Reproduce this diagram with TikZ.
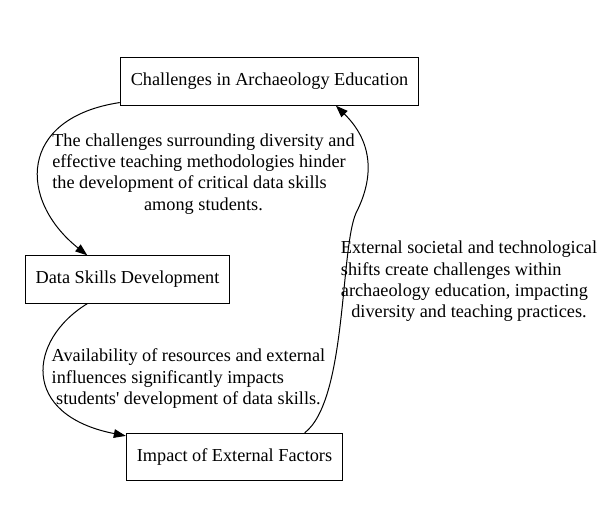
\documentclass[tikz,border=0pt]{standalone}
\usepackage{fontspec}
\setmainfont{Liberation Serif}
\usetikzlibrary{arrows.meta}
\begin{document}
\begin{tikzpicture}[x=0.75pt,y=-0.75pt,line width=0.75pt,
  font=\fontsize{13.7}{16}\selectfont,
  box/.style={draw, rectangle, inner xsep=7.9pt, minimum height=35.5pt},
  lbl/.style={inner sep=0pt},
  >={Triangle[length=9pt,width=6.5pt]}]
\useasboundingbox (0,0) rectangle (603,508);
\node[box] (chal) at (269.5,81.5) {Challenges in Archaeology Education};
\node[box] (data) at (127.5,279.5) {Data Skills Development};
\node[box] (ext) at (234.5,457) {Impact of External Factors};

\node[lbl] (lab1) at (203.5,174) {\begin{tabular}{@{}l@{}}
  The challenges surrounding diversity and\\
  effective teaching methodologies hinder\\
  the development of critical data skills\\
  \multicolumn{1}{@{}c@{}}{among students.}\end{tabular}};
\node[lbl] (lab2) at (188.5,379) {\begin{tabular}{@{}l@{}}
  Availability of resources and external\\
  influences significantly impacts\\
  \multicolumn{1}{@{}c@{}}{students\textquotesingle{} development of data skills.}\end{tabular}};
\node[lbl] (lab3) at (469,281.5) {\begin{tabular}{@{}l@{}}
  External societal and technological\\
  shifts create challenges within\\
  archaeology education, impacting\\
  \multicolumn{1}{@{}c@{}}{diversity and teaching practices.}\end{tabular}};

\draw[->] (chal.188) .. controls (18,118) and (18,200) .. (data.149);
\draw[->] (data.211) .. controls (28,340) and (20,415) .. (ext.169);
\coordinate (bend) at (356,213);
\draw[->] (ext.19) .. controls (347,400) and (340,250) .. (bend)
  .. controls (372,182) and (376,145) .. (chal.340);
\end{tikzpicture}
\end{document}
